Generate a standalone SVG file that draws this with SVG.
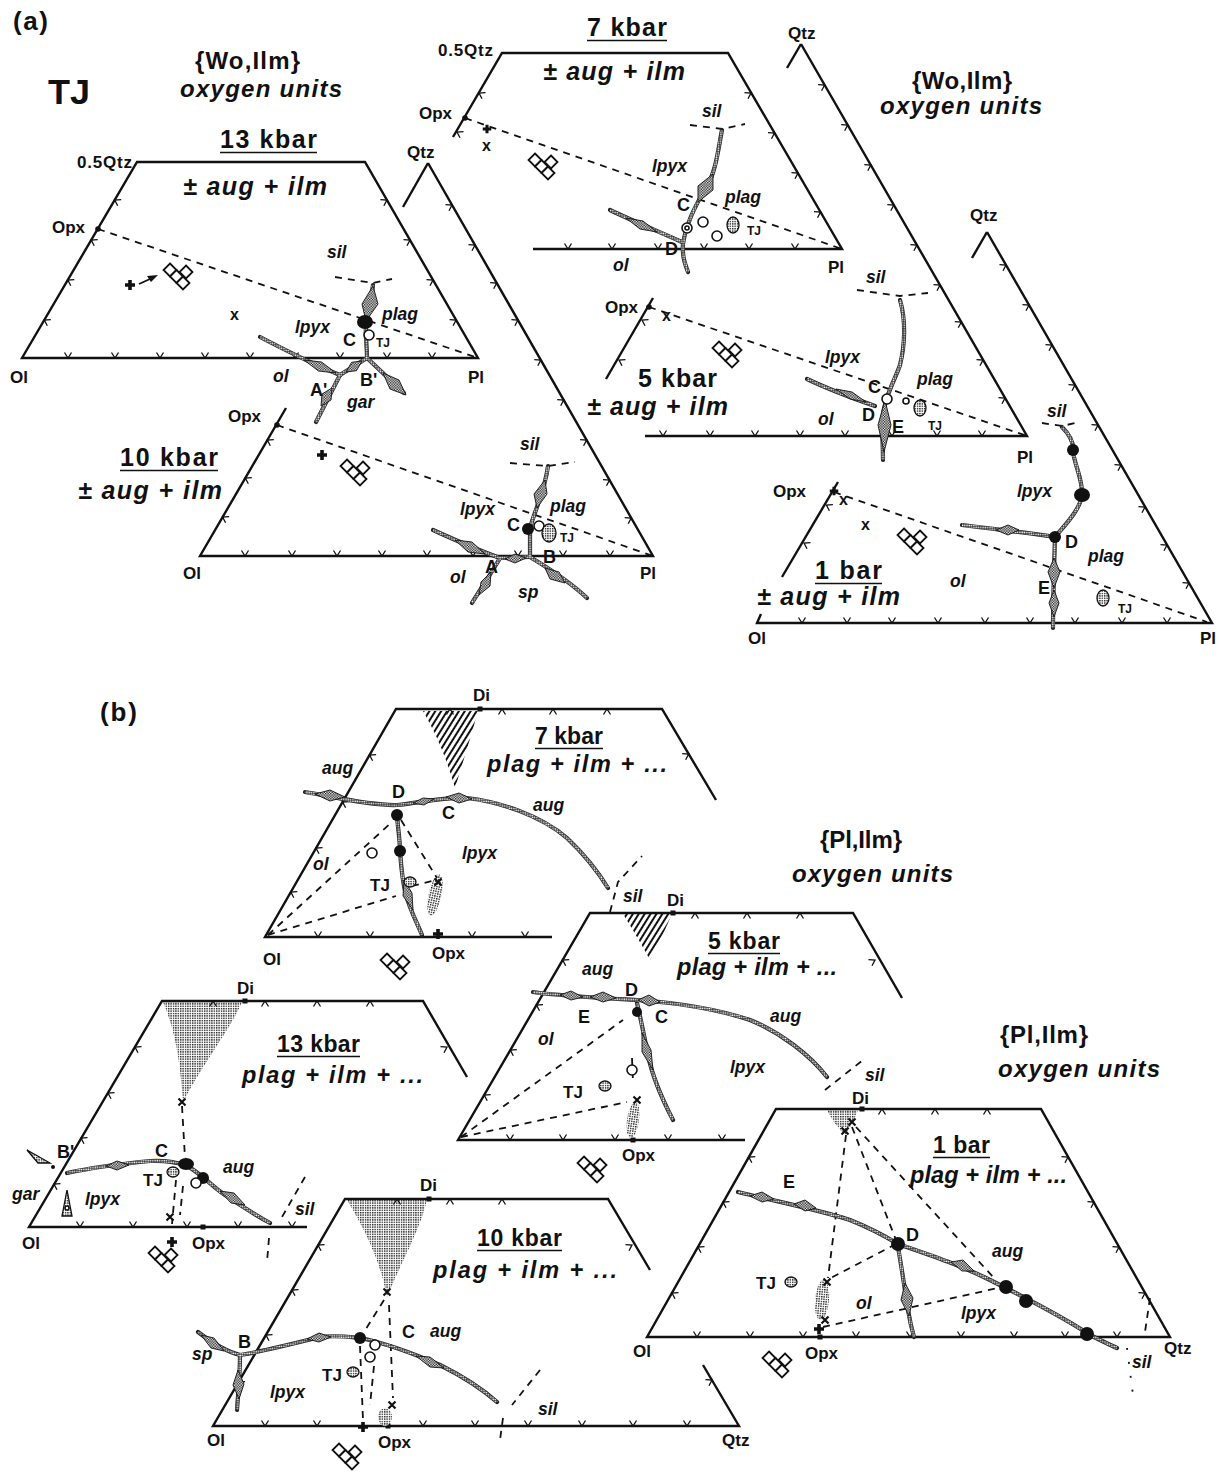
<svg xmlns="http://www.w3.org/2000/svg" width="1219" height="1474" viewBox="0 0 1219 1474">
<defs>
<style>
text{font-family:"Liberation Sans",Arial,Helvetica,sans-serif;font-weight:bold;fill:#111}
.it{font-style:italic}
.m{font-size:17px}
.p{font-size:17.5px;font-style:italic}
.pt{font-size:18px}
.sm{font-size:12px}
.ti{font-size:25px}
.tb{font-size:23px}
.hd{font-size:24px}
.pp{font-size:23.5px;font-style:italic}
.fr{fill:none;stroke:#111;stroke-width:2.4;stroke-linejoin:miter}
.tk{fill:none;stroke:#111;stroke-width:1.3}
.ds{fill:none;stroke:#111;stroke-width:1.8;stroke-dasharray:7 6}
.cb{fill:none;stroke:#222;stroke-width:4.2;stroke-linecap:round;stroke-linejoin:round}
.cd{fill:none;stroke:url(#wd);stroke-width:2.8}
.th{fill:url(#ck);stroke:#111;stroke-width:0.9}
.st{fill:url(#dt);stroke:#111;stroke-width:1.3}
.sf{fill:url(#dt);stroke:none}
.bd{fill:#111}
.oc{fill:#fff;stroke:#111;stroke-width:1.6}
.xm{fill:none;stroke:#111;stroke-width:2.2}
.ul{stroke:#111;stroke-width:1.7}
.dq{fill:#fff;stroke:#111;stroke-width:1.8}
</style>
<pattern id="wd" width="2.3" height="2.3" patternUnits="userSpaceOnUse"><rect x="0.3" y="0.3" width="1.5" height="1.5" fill="#fff"/></pattern>
<pattern id="ck" width="2.6" height="2.6" patternUnits="userSpaceOnUse"><rect width="2.6" height="2.6" fill="#fff"/><rect width="1.3" height="1.3" fill="#111"/><rect x="1.3" y="1.3" width="1.3" height="1.3" fill="#111"/></pattern>
<pattern id="dt" width="2.4" height="2.4" patternUnits="userSpaceOnUse"><rect width="2.4" height="2.4" fill="#fff"/><rect width="1.4" height="1.4" fill="#222"/></pattern>
<pattern id="hh" width="5" height="5" patternUnits="userSpaceOnUse" patternTransform="rotate(-58)"><rect width="5" height="2" fill="#111"/></pattern>
<path id="tk" d="M-3.5,-5.5L0,0L3.5,-5.5"/>
<path id="xm" d="M-3.5,-3.5L3.5,3.5M3.5,-3.5L-3.5,3.5"/>
<path id="pl" d="M-1.8,-5h3.6v3.2h3.2v3.6h-3.2v3.2h-3.6v-3.2h-3.2v-3.6h3.2z"/>
<g id="dq">
<path d="M0,-6.5L6.5,0L0,6.5L-6.5,0Z"/>
<path d="M6.5,0L13,6.5L6.5,13L0,6.5Z"/>
<path d="M16,-4.5L22.5,2L16,8.5L9.5,2Z"/>
<path d="M13,6.5L19.5,13L13,19.5L6.5,13Z"/>
</g>
<!-- reaction curves -->
<path id="c_a13_1" d="M373,285C371,300 368,312 366,322C365,335 367,345 367,358"/>
<path id="c_a13_2" d="M260,337C285,350 312,364 340,375"/>
<path id="c_a13_3" d="M340,375L367,358"/>
<path id="c_a13_4" d="M367,358L404,393"/>
<path id="c_a13_5" d="M340,375L316,422"/>
<path id="c_a10_1" d="M548,466C545,490 535,510 530,528L530,557"/>
<path id="c_a10_2" d="M433,530C455,540 478,550 500,558"/>
<path id="c_a10_3" d="M500,558L530,557"/>
<path id="c_a10_4" d="M530,557C545,566 570,582 587,598"/>
<path id="c_a10_5" d="M500,558C492,572 480,590 472,603"/>
<path id="c_a7_1" d="M722,130C718,150 716,172 706,188C696,204 686,224 683,244C682,256 685,264 688,272"/>
<path id="c_a7_2" d="M610,210C635,222 660,232 682,242"/>
<path id="c_a5_1" d="M900,300C906,320 905,345 900,365C895,380 885,395 882,420C882,432 883,446 883,460"/>
<path id="c_a5_2" d="M807,379C830,390 852,398 875,406"/>
<path id="c_a1_1" d="M1062,427C1072,437 1074,445 1073,452C1075,466 1083,480 1082,495C1080,510 1065,525 1055,537"/>
<path id="c_a1_2" d="M1055,537C1054,570 1053,600 1053,628"/>
<path id="c_a1_3" d="M1055,537C1030,533 1000,530 962,525"/>
<path id="c_b7_1" d="M305,792C330,796 370,806 397,805C420,803 440,797 467,798C500,802 540,815 567,838C585,855 600,875 608,888"/>
<path id="c_b7_2" d="M397,815C398,830 400,840 400,851C401,865 402,880 406,895C410,910 418,925 422,935"/>
<path id="c_b5_1" d="M533,992C560,996 600,998 637,1000C680,1003 720,1010 750,1020C780,1032 810,1055 827,1077"/>
<path id="c_b5_2" d="M637,1003C641,1020 645,1040 648,1055C652,1075 660,1095 673,1120"/>
<path id="c_b13_1" d="M67,1173C90,1168 120,1164 150,1161C165,1160 175,1162 185,1165"/>
<path id="c_b13_2" d="M185,1165C200,1172 210,1185 225,1195C240,1205 255,1215 270,1223"/>
<path id="c_b10_1" d="M198,1332C215,1345 228,1352 240,1355C260,1352 300,1342 320,1337C335,1335 350,1337 360,1338C380,1342 410,1352 440,1365C470,1380 488,1394 497,1402"/>
<path id="c_b10_2" d="M240,1355C240,1375 238,1395 237,1410"/>
<path id="c_b1_1" d="M738,1192C770,1200 820,1210 850,1220C870,1228 885,1236 898,1244C930,1255 960,1265 990,1280C1020,1295 1060,1315 1090,1335C1100,1340 1110,1345 1117,1348"/>
<path id="c_b1_2" d="M898,1247C902,1270 905,1290 908,1310C910,1322 912,1330 914,1337"/>
</defs>
<rect width="1219" height="1474" fill="#fff"/>

<!-- ===== part (a) headings ===== -->
<g id="a-head">
<text x="13" y="30" style="font-size:26px" textLength="35" lengthAdjust="spacing">(a)</text>
<text x="48" y="104" style="font-size:35px" textLength="42" lengthAdjust="spacingAndGlyphs">TJ</text>
<text x="195" y="69" class="hd" textLength="105" lengthAdjust="spacing">{Wo,Ilm}</text>
<text x="180" y="97" class="hd it" textLength="162" lengthAdjust="spacing">oxygen units</text>
<text x="912" y="89" class="hd" textLength="100" lengthAdjust="spacing">{Wo,Ilm}</text>
<text x="880" y="114" class="hd it" textLength="162" lengthAdjust="spacing">oxygen units</text>
</g>

<!-- ===== (a) 13 kbar ===== -->
<g id="a13">
<path class="fr" d="M22,358L137,162L365,162L478,358Z"/>
<g class="tk">
<use href="#tk" transform="translate(68,358)"/><use href="#tk" transform="translate(115,358)"/><use href="#tk" transform="translate(160,358)"/><use href="#tk" transform="translate(205,358)"/><use href="#tk" transform="translate(250,358)"/><use href="#tk" transform="translate(295,358)"/><use href="#tk" transform="translate(340,358)"/><use href="#tk" transform="translate(387,358)"/><use href="#tk" transform="translate(432,358)"/>
<use href="#tk" transform="translate(44.3,320) rotate(120)"/><use href="#tk" transform="translate(67.8,280) rotate(120)"/><use href="#tk" transform="translate(91.2,240) rotate(120)"/><use href="#tk" transform="translate(114.7,200) rotate(120)"/>
<use href="#tk" transform="translate(456.1,320) rotate(240)"/><use href="#tk" transform="translate(433,280) rotate(240)"/><use href="#tk" transform="translate(410,240) rotate(240)"/><use href="#tk" transform="translate(386.9,200) rotate(240)"/>
</g>
<circle class="bd" cx="98" cy="229" r="2.8"/>
<path class="ds" d="M98,229L478,358"/>
<path class="ds" d="M335,277L373,283L392,279"/>
<g class="cb"><use href="#c_a13_1"/><use href="#c_a13_2"/><use href="#c_a13_3"/><use href="#c_a13_4"/><use href="#c_a13_5"/></g>
<g class="cd"><use href="#c_a13_1"/><use href="#c_a13_2"/><use href="#c_a13_3"/><use href="#c_a13_4"/><use href="#c_a13_5"/></g>
<g class="th">
<path d="M373,286L378,304L366,321L362,304Z"/>
<path d="M304,360L318.5,371L336,373L321.5,362Z"/>
<path d="M346,372L356.4,370.7L362,361L351.6,362.3Z"/>
<path d="M383,373L390,389L406,395L399,380Z"/>
<path d="M321,406L331,400L332,388L322,394Z"/>
</g>
<ellipse class="bd" cx="365" cy="322" rx="8" ry="7"/>
<circle class="oc" cx="369" cy="335" r="5"/>
<use href="#pl" class="bd" transform="translate(130,285)"/>
<path d="M139,284L150,279" stroke="#111" stroke-width="1.8"/>
<path d="M158,275L147,276L151,282Z" fill="#111"/>
<use href="#dq" class="dq" transform="translate(170,270)"/>
<text x="230" y="320" style="font-size:16px">x</text>
<text x="220" y="148" class="ti" textLength="97" lengthAdjust="spacing">13 kbar</text>
<line class="ul" x1="220" y1="152.5" x2="317" y2="152.5"/>
<text x="183" y="195" class="ti it" textLength="144" lengthAdjust="spacing">± aug + ilm</text>
<text x="77" y="168" style="font-size:17px" textLength="55" lengthAdjust="spacing">0.5Qtz</text>
<text x="52" y="233" class="m">Opx</text>
<text x="10" y="383" class="m">Ol</text>
<text x="468" y="383" class="m">Pl</text>
<text x="327" y="258" class="p">sil</text>
<text x="382" y="320" class="p">plag</text>
<text x="295" y="333" class="p">lpyx</text>
<text x="343" y="346" class="pt">C</text>
<text x="376" y="347" class="sm">TJ</text>
<text x="273" y="382" class="p">ol</text>
<text x="310" y="396" class="pt">A'</text>
<text x="360" y="386" class="pt">B'</text>
<text x="347" y="408" class="p">gar</text>
</g>

<!-- ===== (a) 10 kbar ===== -->
<g id="a10">
<path class="fr" d="M428,163L403,207"/>
<path class="fr" d="M286,408L200,556L653,556L428,163"/>
<g class="tk">
<use href="#tk" transform="translate(245,556)"/><use href="#tk" transform="translate(292,556)"/><use href="#tk" transform="translate(337,556)"/><use href="#tk" transform="translate(382,556)"/><use href="#tk" transform="translate(427,556)"/><use href="#tk" transform="translate(473,556)"/><use href="#tk" transform="translate(518,556)"/><use href="#tk" transform="translate(563,556)"/><use href="#tk" transform="translate(610,556)"/>
<use href="#tk" transform="translate(267.3,440) rotate(120)"/><use href="#tk" transform="translate(245.3,478) rotate(120)"/><use href="#tk" transform="translate(222.6,517) rotate(120)"/>
<use href="#tk" transform="translate(452,205) rotate(240)"/><use href="#tk" transform="translate(475,245) rotate(240)"/><use href="#tk" transform="translate(496.7,283) rotate(240)"/><use href="#tk" transform="translate(517.9,320) rotate(240)"/><use href="#tk" transform="translate(540.8,360) rotate(240)"/><use href="#tk" transform="translate(563.7,400) rotate(240)"/><use href="#tk" transform="translate(586.6,440) rotate(240)"/><use href="#tk" transform="translate(609.5,480) rotate(240)"/><use href="#tk" transform="translate(631.2,518) rotate(240)"/>
</g>
<circle class="bd" cx="277" cy="425" r="2.8"/>
<path class="ds" d="M277,425L653,556"/>
<path class="ds" d="M510,463L548,466L575,462"/>
<g class="cb"><use href="#c_a10_1"/><use href="#c_a10_2"/><use href="#c_a10_3"/><use href="#c_a10_4"/><use href="#c_a10_5"/></g>
<g class="cd"><use href="#c_a10_1"/><use href="#c_a10_2"/><use href="#c_a10_3"/><use href="#c_a10_4"/><use href="#c_a10_5"/></g>
<g class="th">
<path d="M545,480L547,494L537,508L534,494Z"/>
<path d="M455,540L468,552L485,554L472,542Z"/>
<path d="M545,568L550,579L565,583L559,572Z"/>
<path d="M491,572L490,586L479,595L481,582Z"/>
<path d="M505,559L515,563L526,558L515,554Z"/>
</g>
<circle class="bd" cx="528" cy="529" r="6"/>
<circle class="oc" cx="539" cy="526" r="5"/>
<ellipse class="st" cx="549" cy="533" rx="7" ry="9"/>
<use href="#pl" class="bd" transform="translate(322,455)"/>
<use href="#dq" class="dq" transform="translate(347,466)"/>
<text x="407" y="158" class="m">Qtz</text>
<text x="228" y="422" class="m">Opx</text>
<text x="120" y="466" class="ti" textLength="98" lengthAdjust="spacing">10 kbar</text>
<line class="ul" x1="120" y1="470.5" x2="218" y2="470.5"/>
<text x="78" y="499" class="ti it" textLength="144" lengthAdjust="spacing">± aug + ilm</text>
<text x="520" y="450" class="p">sil</text>
<text x="550" y="512" class="p">plag</text>
<text x="460" y="515" class="p">lpyx</text>
<text x="507" y="531" class="pt">C</text>
<text x="560" y="542" class="sm">TJ</text>
<text x="450" y="583" class="p">ol</text>
<text x="485" y="573" class="pt">A</text>
<text x="543" y="563" class="pt">B</text>
<text x="518" y="598" class="p">sp</text>
<text x="183" y="579" class="m">Ol</text>
<text x="640" y="579" class="m">Pl</text>
</g>

<!-- ===== (a) 7 kbar ===== -->
<g id="a7">
<path class="fr" d="M453,137L502,53L728,53L842,249L533,249"/>
<g class="tk">
<use href="#tk" transform="translate(568,249)"/><use href="#tk" transform="translate(612,249)"/><use href="#tk" transform="translate(658,249)"/><use href="#tk" transform="translate(704,249)"/><use href="#tk" transform="translate(749,249)"/><use href="#tk" transform="translate(795,249)"/>
<use href="#tk" transform="translate(479,93) rotate(120)"/><use href="#tk" transform="translate(457,132) rotate(120)"/>
<use href="#tk" transform="translate(751,93) rotate(240)"/><use href="#tk" transform="translate(774.5,133) rotate(240)"/><use href="#tk" transform="translate(798,173) rotate(240)"/><use href="#tk" transform="translate(820.5,212) rotate(240)"/>
</g>
<circle class="bd" cx="465" cy="118" r="2.8"/>
<path class="ds" d="M465,118L842,249"/>
<path class="ds" d="M690,125L722,129L745,124"/>
<g class="cb"><use href="#c_a7_1"/><use href="#c_a7_2"/></g>
<g class="cd"><use href="#c_a7_1"/><use href="#c_a7_2"/></g>
<g class="th">
<path d="M713,174L713,190L698,202L698,186Z"/>
<path d="M626,218L640,229L657,232L643,221Z"/>
</g>
<circle class="oc" cx="687" cy="228" r="5"/>
<circle class="oc" cx="687" cy="228" r="2"/>
<circle class="oc" cx="703" cy="222" r="5"/>
<circle class="oc" cx="717" cy="236" r="5"/>
<ellipse class="st" cx="733" cy="225" rx="6" ry="8"/>
<use href="#pl" class="bd" transform="translate(487,129) scale(0.85)"/>
<text x="482" y="151" style="font-size:16px">x</text>
<use href="#dq" class="dq" transform="translate(535,160)"/>
<text x="587" y="36" class="ti" textLength="80" lengthAdjust="spacing">7 kbar</text>
<line class="ul" x1="587" y1="40.5" x2="667" y2="40.5"/>
<text x="438" y="56" style="font-size:17px" textLength="55" lengthAdjust="spacing">0.5Qtz</text>
<text x="543" y="80" class="ti it" textLength="142" lengthAdjust="spacing">± aug + ilm</text>
<text x="419" y="119" class="m">Opx</text>
<text x="788" y="39" class="m">Qtz</text>
<text x="702" y="117" class="p">sil</text>
<text x="652" y="172" class="p">lpyx</text>
<text x="725" y="203" class="p">plag</text>
<text x="677" y="211" class="pt">C</text>
<text x="747" y="235" class="sm">TJ</text>
<text x="665" y="255" class="pt">D</text>
<text x="613" y="271" class="p">ol</text>
<text x="828" y="273" class="m">Pl</text>
</g>

<!-- ===== (a) 5 kbar ===== -->
<g id="a5">
<path class="fr" d="M801,44L787,68"/>
<path class="fr" d="M653,298L606,379"/>
<path class="fr" d="M801,44L1027,436L645,436"/>
<g class="tk">
<use href="#tk" transform="translate(663,436)"/><use href="#tk" transform="translate(710,436)"/><use href="#tk" transform="translate(755,436)"/><use href="#tk" transform="translate(800,436)"/><use href="#tk" transform="translate(845,436)"/><use href="#tk" transform="translate(892,436)"/><use href="#tk" transform="translate(937,436)"/><use href="#tk" transform="translate(982,436)"/>
<use href="#tk" transform="translate(642,320) rotate(120)"/><use href="#tk" transform="translate(619,360) rotate(120)"/>
<use href="#tk" transform="translate(824.6,85) rotate(240)"/><use href="#tk" transform="translate(847.7,125) rotate(240)"/><use href="#tk" transform="translate(870.8,165) rotate(240)"/><use href="#tk" transform="translate(893.8,205) rotate(240)"/><use href="#tk" transform="translate(916.9,245) rotate(240)"/><use href="#tk" transform="translate(940,285) rotate(240)"/><use href="#tk" transform="translate(961.3,322) rotate(240)"/><use href="#tk" transform="translate(983,360) rotate(240)"/><use href="#tk" transform="translate(1005,398) rotate(240)"/>
</g>
<circle class="bd" cx="649" cy="307" r="2.8"/>
<path class="ds" d="M649,307L1027,436"/>
<path class="ds" d="M857,290L900,296L928,293"/>
<g class="cb"><use href="#c_a5_1"/><use href="#c_a5_2"/></g>
<g class="cd"><use href="#c_a5_1"/><use href="#c_a5_2"/></g>
<g class="th">
<path d="M885,400L891,425L884,452L878,425Z"/>
<path d="M836,389L850,399L866,402L852,392Z"/>
</g>
<circle class="oc" cx="887" cy="399" r="5"/>
<circle class="oc" cx="906" cy="401" r="3"/>
<ellipse class="st" cx="920" cy="408" rx="6" ry="8"/>
<text x="662" y="321" style="font-size:16px">x</text>
<use href="#dq" class="dq" transform="translate(719,348)"/>
<text x="605" y="313" class="m">Opx</text>
<text x="638" y="387" class="ti" textLength="79" lengthAdjust="spacing">5 kbar</text>
<text x="587" y="415" class="ti it" textLength="141" lengthAdjust="spacing">± aug + ilm</text>
<text x="866" y="283" class="p">sil</text>
<text x="825" y="363" class="p">lpyx</text>
<text x="917" y="385" class="p">plag</text>
<text x="868" y="393" class="pt">C</text>
<text x="862" y="421" class="pt">D</text>
<text x="892" y="433" class="pt">E</text>
<text x="818" y="425" class="p">ol</text>
<text x="928" y="430" class="sm">TJ</text>
<text x="1017" y="463" class="m">Pl</text>
</g>

<!-- ===== (a) 1 bar ===== -->
<g id="a1">
<path class="fr" d="M987,232L972,258"/>
<path class="fr" d="M838,482L782,577"/>
<path class="fr" d="M761,614L757,623L1212,623L987,232"/>
<g class="tk">
<use href="#tk" transform="translate(802,623)"/><use href="#tk" transform="translate(847,623)"/><use href="#tk" transform="translate(892,623)"/><use href="#tk" transform="translate(938,623)"/><use href="#tk" transform="translate(985,623)"/><use href="#tk" transform="translate(1030,623)"/><use href="#tk" transform="translate(1075,623)"/><use href="#tk" transform="translate(1122,623)"/><use href="#tk" transform="translate(1167,623)"/>
<use href="#tk" transform="translate(826.4,505) rotate(120)"/><use href="#tk" transform="translate(804,543) rotate(120)"/>
<use href="#tk" transform="translate(1006,265) rotate(240)"/><use href="#tk" transform="translate(1029,305) rotate(240)"/><use href="#tk" transform="translate(1052,345) rotate(240)"/><use href="#tk" transform="translate(1075,385) rotate(240)"/><use href="#tk" transform="translate(1098,425) rotate(240)"/><use href="#tk" transform="translate(1121,465) rotate(240)"/><use href="#tk" transform="translate(1145,507) rotate(240)"/><use href="#tk" transform="translate(1167,545) rotate(240)"/><use href="#tk" transform="translate(1189,583) rotate(240)"/>
</g>
<path class="ds" d="M834,492L1207,622"/>
<path class="ds" d="M1042,423L1062,426L1080,422"/>
<g class="cb"><use href="#c_a1_1"/><use href="#c_a1_2"/><use href="#c_a1_3"/></g>
<g class="cd"><use href="#c_a1_1"/><use href="#c_a1_2"/><use href="#c_a1_3"/></g>
<g class="th">
<path d="M996,530L1008,525L1019,530L1008,535Z"/>
<path d="M1054,558L1060,572L1054,588L1048,572Z"/>
<path d="M1054,590L1059,603L1054,617L1049,603Z"/>
</g>
<circle class="bd" cx="1073" cy="450" r="6"/>
<ellipse class="bd" cx="1082" cy="495" rx="8" ry="7"/>
<circle class="bd" cx="1055" cy="537" r="6"/>
<ellipse class="st" cx="1103" cy="598" rx="6" ry="8"/>
<use href="#pl" class="bd" transform="translate(834,491) scale(0.85)"/>
<text x="839" y="505" style="font-size:16px">x</text>
<text x="861" y="530" style="font-size:16px">x</text>
<use href="#dq" class="dq" transform="translate(904,535)"/>
<text x="970" y="221" class="m">Qtz</text>
<text x="773" y="497" class="m">Opx</text>
<text x="1047" y="417" class="p">sil</text>
<text x="1017" y="497" class="p">lpyx</text>
<text x="1065" y="548" class="pt">D</text>
<text x="1088" y="562" class="p">plag</text>
<text x="950" y="587" class="p">ol</text>
<text x="1038" y="594" class="pt">E</text>
<text x="1118" y="613" class="sm">TJ</text>
<text x="815" y="579" class="ti" textLength="67" lengthAdjust="spacing">1 bar</text>
<line class="ul" x1="815" y1="583.5" x2="882" y2="583.5"/>
<text x="757" y="605" class="ti it" textLength="143" lengthAdjust="spacing">± aug + ilm</text>
<text x="748" y="644" class="m">Ol</text>
<text x="1200" y="644" class="m">Pl</text>
</g>

<!-- ===== part (b) headings ===== -->
<g id="b-head">
<text x="100" y="721" style="font-size:26px" textLength="37" lengthAdjust="spacing">(b)</text>
<text x="820" y="848" class="hd" textLength="82" lengthAdjust="spacing">{Pl,Ilm}</text>
<text x="792" y="882" class="hd it" textLength="161" lengthAdjust="spacing">oxygen units</text>
<text x="1000" y="1043" class="hd" textLength="88" lengthAdjust="spacing">{Pl,Ilm}</text>
<text x="998" y="1077" class="hd it" textLength="162" lengthAdjust="spacing">oxygen units</text>
</g>

<!-- ===== (b) 7 kbar ===== -->
<g id="b7">
<path d="M423,711L478,711C470,740 462,765 455,788C447,760 437,735 423,711Z" fill="url(#hh)"/>
<path class="fr" d="M716,800L662,709L396,709L265,937L552,937"/>
<g class="tk">
<use href="#tk" transform="translate(450,709) rotate(180)"/><use href="#tk" transform="translate(502,709) rotate(180)"/><use href="#tk" transform="translate(553,709) rotate(180)"/><use href="#tk" transform="translate(607,709) rotate(180)"/>
<use href="#tk" transform="translate(688.7,754) rotate(240)"/>
<use href="#tk" transform="translate(369.6,755) rotate(120)"/><use href="#tk" transform="translate(342.6,802) rotate(120)"/><use href="#tk" transform="translate(316,848) rotate(120)"/><use href="#tk" transform="translate(290.8,892) rotate(120)"/>
<use href="#tk" transform="translate(318,937)"/><use href="#tk" transform="translate(370,937)"/><use href="#tk" transform="translate(472,937)"/><use href="#tk" transform="translate(525,937)"/>
</g>
<rect class="bd" x="477.5" y="706.5" width="5" height="5"/>
<ellipse class="sf" cx="435" cy="895" rx="6.5" ry="21" transform="rotate(12 435 895)"/>
<g class="ds">
<path d="M268,935L392,822"/>
<path d="M268,935L396,896"/>
<path d="M412,886L436,880"/>
<path d="M401,820L437,878"/>
<path d="M610,912L618,882L642,856"/>
</g>
<g class="cb"><use href="#c_b7_1"/><use href="#c_b7_2"/></g>
<g class="cd"><use href="#c_b7_1"/><use href="#c_b7_2"/></g>
<g class="th">
<path d="M315,794L330,790L345,797L330,801Z"/>
<path d="M413,803L423,798L434,799L424,805Z"/>
<path d="M446,797L459,793L472,799L459,803Z"/>
<path d="M404,880L412,893L413,910L403,896Z"/>
</g>
<circle class="bd" cx="397" cy="815" r="6"/>
<circle class="bd" cx="400" cy="851" r="6"/>
<circle class="oc" cx="372" cy="853" r="5"/>
<ellipse class="st" cx="410" cy="882" rx="6" ry="5"/>
<use href="#xm" class="xm" transform="translate(438,882)"/>
<use href="#pl" class="bd" transform="translate(438,934)"/>
<use href="#dq" class="dq" transform="translate(387,960)"/>
<text x="473" y="701" class="m">Di</text>
<text x="535" y="744" class="tb" textLength="68" lengthAdjust="spacing">7 kbar</text>
<line class="ul" x1="535" y1="748.5" x2="603" y2="748.5"/>
<text x="487" y="772" class="pp" textLength="180" lengthAdjust="spacing">plag + ilm + ...</text>
<text x="322" y="774" class="p">aug</text>
<text x="392" y="798" class="pt">D</text>
<text x="442" y="819" class="pt">C</text>
<text x="533" y="811" class="p">aug</text>
<text x="462" y="859" class="p">lpyx</text>
<text x="313" y="870" class="p">ol</text>
<text x="370" y="891" class="m">TJ</text>
<text x="432" y="959" class="m">Opx</text>
<text x="263" y="965" class="m">Ol</text>
<text x="623" y="902" class="p">sil</text>
</g>

<!-- ===== (b) 5 kbar ===== -->
<g id="b5">
<path d="M623,914L672,914C665,930 658,945 650,960C642,945 633,930 623,914Z" fill="url(#hh)"/>
<path class="fr" d="M902,998L853,913L590,913L458,1140L745,1140"/>
<g class="tk">
<use href="#tk" transform="translate(695,913) rotate(180)"/><use href="#tk" transform="translate(747,913) rotate(180)"/><use href="#tk" transform="translate(800,913) rotate(180)"/>
<use href="#tk" transform="translate(875,960) rotate(240)"/>
<use href="#tk" transform="translate(562.7,960) rotate(120)"/><use href="#tk" transform="translate(536.5,1005) rotate(120)"/><use href="#tk" transform="translate(510.3,1050) rotate(120)"/><use href="#tk" transform="translate(484.2,1095) rotate(120)"/>
<use href="#tk" transform="translate(510,1140)"/><use href="#tk" transform="translate(563,1140)"/><use href="#tk" transform="translate(615,1140)"/><use href="#tk" transform="translate(668,1140)"/><use href="#tk" transform="translate(722,1140)"/>
</g>
<rect class="bd" x="670.5" y="910.5" width="5" height="5"/>
<rect class="bd" x="630.5" y="1137.5" width="5" height="5"/>
<ellipse class="sf" cx="633" cy="1120" rx="6" ry="18" transform="rotate(8 633 1120)"/>
<g class="ds">
<path d="M461,1137L623,1020"/>
<path d="M461,1137L627,1102"/>
<path d="M632,1058L633,1082"/>
<path d="M825,1090L863,1060"/>
</g>
<g class="cb"><use href="#c_b5_1"/><use href="#c_b5_2"/></g>
<g class="cd"><use href="#c_b5_1"/><use href="#c_b5_2"/></g>
<g class="th">
<path d="M560,995L571,991L583,997L571,1000Z"/>
<path d="M590,997L603,992L616,998L603,1002Z"/>
<path d="M638,1000L649,995L660,1002L649,1006Z"/>
<path d="M642,1033L651,1050L653,1070L642,1052Z"/>
</g>
<circle class="bd" cx="637" cy="1012" r="5"/>
<circle class="oc" cx="632" cy="1070" r="5"/>
<ellipse class="st" cx="605" cy="1086" rx="6" ry="5"/>
<use href="#xm" class="xm" transform="translate(637,1100)"/>
<use href="#dq" class="dq" transform="translate(584,1163)"/>
<text x="667" y="906" class="m">Di</text>
<text x="708" y="949" class="tb" textLength="72" lengthAdjust="spacing">5 kbar</text>
<line class="ul" x1="708" y1="953.5" x2="780" y2="953.5"/>
<text x="677" y="975" class="pp" textLength="160" lengthAdjust="spacing">plag + ilm + ...</text>
<text x="582" y="975" class="p">aug</text>
<text x="625" y="996" class="pt">D</text>
<text x="578" y="1023" class="pt">E</text>
<text x="655" y="1023" class="pt">C</text>
<text x="770" y="1022" class="p">aug</text>
<text x="538" y="1045" class="p">ol</text>
<text x="730" y="1073" class="p">lpyx</text>
<text x="563" y="1098" class="m">TJ</text>
<text x="622" y="1161" class="m">Opx</text>
<text x="865" y="1081" class="p">sil</text>
</g>

<!-- ===== (b) 13 kbar ===== -->
<g id="b13">
<path class="sf" d="M163,1002L242,1002C230,1030 205,1060 183,1102C180,1060 175,1030 163,1002Z"/>
<path class="fr" d="M467,1077L423,1001L162,1001L29,1227L307,1227"/>
<g class="tk">
<use href="#tk" transform="translate(213,1001) rotate(180)"/><use href="#tk" transform="translate(265,1001) rotate(180)"/><use href="#tk" transform="translate(317,1001) rotate(180)"/><use href="#tk" transform="translate(370,1001) rotate(180)"/>
<use href="#tk" transform="translate(447,1047) rotate(240)"/>
<use href="#tk" transform="translate(135,1047) rotate(120)"/><use href="#tk" transform="translate(108,1093) rotate(120)"/><use href="#tk" transform="translate(81,1138) rotate(120)"/><use href="#tk" transform="translate(54,1184) rotate(120)"/>
<use href="#tk" transform="translate(80,1227)"/><use href="#tk" transform="translate(133,1227)"/><use href="#tk" transform="translate(187,1227)"/><use href="#tk" transform="translate(238,1227)"/><use href="#tk" transform="translate(292,1227)"/>
</g>
<rect class="bd" x="242.5" y="998.5" width="5" height="5"/>
<rect class="bd" x="200.5" y="1224.5" width="5" height="5"/>
<use href="#xm" class="xm" transform="translate(182,1102)"/>
<g class="ds">
<path d="M182,1106L185,1158"/>
<path d="M176,1180L172,1224"/>
<path d="M183,1186L180,1215"/>
<path d="M305,1177L282,1217"/>
<path d="M269,1238L267,1262"/>
</g>
<g class="cb"><use href="#c_b13_1"/><use href="#c_b13_2"/></g>
<g class="cd"><use href="#c_b13_1"/><use href="#c_b13_2"/></g>
<g class="th">
<path d="M106,1166L117,1161L129,1165L117,1170Z"/>
<path d="M220,1191L234,1193L245,1205L231,1203Z"/>
</g>
<ellipse class="bd" cx="186" cy="1164" rx="8" ry="6"/>
<circle class="bd" cx="203" cy="1178" r="6"/>
<circle class="oc" cx="196" cy="1183" r="5"/>
<ellipse class="st" cx="173" cy="1172" rx="6" ry="5"/>
<path class="st" d="M27,1150L50,1163L38,1163Z"/>
<circle class="bd" cx="53" cy="1167" r="2"/>
<path class="st" d="M67,1190L62,1216L72,1216Z"/>
<circle class="oc" cx="67" cy="1208" r="2"/>
<use href="#xm" class="xm" transform="translate(170,1217)"/>
<use href="#pl" class="bd" transform="translate(172,1242)"/>
<use href="#dq" class="dq" transform="translate(155,1253)"/>
<text x="237" y="994" class="m">Di</text>
<text x="277" y="1052" class="tb" textLength="83" lengthAdjust="spacing">13 kbar</text>
<line class="ul" x1="277" y1="1056.5" x2="360" y2="1056.5"/>
<text x="242" y="1083" class="pp" textLength="181" lengthAdjust="spacing">plag + ilm + ...</text>
<text x="57" y="1158" class="pt">B'</text>
<text x="155" y="1157" class="pt">C</text>
<text x="143" y="1186" class="m">TJ</text>
<text x="223" y="1173" class="p">aug</text>
<text x="12" y="1200" class="p">gar</text>
<text x="85" y="1205" class="p">lpyx</text>
<text x="295" y="1215" class="p">sil</text>
<text x="22" y="1249" class="m">Ol</text>
<text x="192" y="1249" class="m">Opx</text>
</g>

<!-- ===== (b) 10 kbar ===== -->
<g id="b10">
<path class="sf" d="M347,1200L427,1200C420,1230 400,1265 387,1297C380,1260 365,1230 347,1200Z"/>
<path class="fr" d="M650,1270L608,1199L345,1199L213,1426L739,1426L703,1365"/>
<g class="tk">
<use href="#tk" transform="translate(397,1199) rotate(180)"/><use href="#tk" transform="translate(450,1199) rotate(180)"/><use href="#tk" transform="translate(502,1199) rotate(180)"/>
<use href="#tk" transform="translate(632,1245) rotate(240)"/><use href="#tk" transform="translate(712,1380) rotate(240)"/>
<use href="#tk" transform="translate(318,1245) rotate(120)"/><use href="#tk" transform="translate(292,1290) rotate(120)"/><use href="#tk" transform="translate(266,1335) rotate(120)"/><use href="#tk" transform="translate(238.6,1382) rotate(120)"/>
<use href="#tk" transform="translate(265,1426)"/><use href="#tk" transform="translate(317,1426)"/><use href="#tk" transform="translate(423,1426)"/><use href="#tk" transform="translate(475,1426)"/><use href="#tk" transform="translate(528,1426)"/><use href="#tk" transform="translate(582,1426)"/><use href="#tk" transform="translate(633,1426)"/><use href="#tk" transform="translate(687,1426)"/>
</g>
<rect class="bd" x="426.5" y="1196.5" width="5" height="5"/>
<rect class="bd" x="385.5" y="1423.5" width="5" height="5"/>
<ellipse class="sf" cx="385" cy="1417" rx="7" ry="9"/>
<use href="#xm" class="xm" transform="translate(387,1292)"/>
<g class="ds">
<path d="M384,1300L364,1332"/>
<path d="M389,1305L393,1398"/>
<path d="M360,1346L363,1420"/>
<path d="M374,1366L370,1405"/>
<path d="M540,1370L512,1405"/>
<path d="M503,1418L500,1440"/>
</g>
<g class="cb"><use href="#c_b10_1"/><use href="#c_b10_2"/></g>
<g class="cd"><use href="#c_b10_1"/><use href="#c_b10_2"/></g>
<g class="th">
<path d="M201,1335L214,1338L224,1351L211,1348Z"/>
<path d="M307,1339L319,1333L331,1337L319,1342Z"/>
<path d="M416,1356L430,1357L444,1368L430,1367Z"/>
<path d="M238,1370L244,1384L239,1399L233,1385Z"/>
</g>
<circle class="bd" cx="360" cy="1338" r="6"/>
<circle class="oc" cx="375" cy="1345" r="5"/>
<circle class="oc" cx="370" cy="1357" r="5"/>
<ellipse class="st" cx="353" cy="1372" rx="6" ry="5"/>
<use href="#xm" class="xm" transform="translate(392,1405)"/>
<use href="#pl" class="bd" transform="translate(363,1427)"/>
<use href="#dq" class="dq" transform="translate(339,1450)"/>
<text x="420" y="1191" class="m">Di</text>
<text x="477" y="1246" class="tb" textLength="85" lengthAdjust="spacing">10 kbar</text>
<line class="ul" x1="477" y1="1250.5" x2="562" y2="1250.5"/>
<text x="433" y="1278" class="pp" textLength="184" lengthAdjust="spacing">plag + ilm + ...</text>
<text x="238" y="1348" class="pt">B</text>
<text x="192" y="1360" class="p">sp</text>
<text x="402" y="1338" class="pt">C</text>
<text x="430" y="1337" class="p">aug</text>
<text x="322" y="1381" class="m">TJ</text>
<text x="270" y="1398" class="p">lpyx</text>
<text x="538" y="1415" class="p">sil</text>
<text x="207" y="1446" class="m">Ol</text>
<text x="378" y="1448" class="m">Opx</text>
<text x="722" y="1446" class="m">Qtz</text>
</g>

<!-- ===== (b) 1 bar ===== -->
<g id="b1">
<path class="sf" d="M827,1110L858,1110C854,1120 850,1128 845,1135C838,1128 832,1120 827,1110Z"/>
<path class="fr" d="M647,1337L776,1109L1041,1109L1170,1337Z"/>
<g class="tk">
<use href="#tk" transform="translate(882,1109) rotate(180)"/><use href="#tk" transform="translate(935,1109) rotate(180)"/><use href="#tk" transform="translate(987,1109) rotate(180)"/>
<use href="#tk" transform="translate(748.8,1157) rotate(120)"/><use href="#tk" transform="translate(723,1202) rotate(120)"/><use href="#tk" transform="translate(698,1247) rotate(120)"/><use href="#tk" transform="translate(672,1293) rotate(120)"/>
<use href="#tk" transform="translate(1068,1157) rotate(240)"/><use href="#tk" transform="translate(1094,1202) rotate(240)"/><use href="#tk" transform="translate(1119,1247) rotate(240)"/><use href="#tk" transform="translate(1145,1293) rotate(240)"/>
<use href="#tk" transform="translate(697,1337)"/><use href="#tk" transform="translate(750,1337)"/><use href="#tk" transform="translate(803,1337)"/><use href="#tk" transform="translate(856,1337)"/><use href="#tk" transform="translate(910,1337)"/><use href="#tk" transform="translate(961,1337)"/><use href="#tk" transform="translate(1014,1337)"/><use href="#tk" transform="translate(1065,1337)"/><use href="#tk" transform="translate(1117,1337)"/>
</g>
<rect class="bd" x="859.5" y="1106.5" width="5" height="5"/>
<rect class="bd" x="817.5" y="1334.5" width="5" height="5"/>
<ellipse class="sf" cx="822" cy="1300" rx="7" ry="20" transform="rotate(5 822 1300)"/>
<use href="#xm" class="xm" transform="translate(852,1122)"/>
<use href="#xm" class="xm" transform="translate(845,1131)"/>
<g class="ds">
<path d="M846,1135L828,1278"/>
<path d="M852,1127L896,1240"/>
<path d="M856,1127L994,1278"/>
<path d="M896,1244L827,1280"/>
<path d="M823,1327L998,1288"/>
<path d="M1150,1298L1145,1332"/>
<path d="M1127,1348L1133,1395" style="stroke-dasharray:2 12"/>
</g>
<g class="cb"><use href="#c_b1_1"/><use href="#c_b1_2"/></g>
<g class="cd"><use href="#c_b1_1"/><use href="#c_b1_2"/></g>
<g class="th">
<path d="M750,1196L762,1192L774,1199L762,1202Z"/>
<path d="M794,1204L805,1200L816,1208L805,1211Z"/>
<path d="M951,1262L963,1260L974,1271L962,1271Z"/>
<path d="M905,1283L913,1298L909,1316L901,1300Z"/>
</g>
<circle class="bd" cx="898" cy="1244" r="7"/>
<circle class="bd" cx="1006" cy="1287" r="7"/>
<circle class="bd" cx="1026" cy="1301" r="7"/>
<circle class="bd" cx="1087" cy="1334" r="7"/>
<ellipse class="st" cx="791" cy="1282" rx="6" ry="5"/>
<use href="#xm" class="xm" transform="translate(827,1282)"/>
<use href="#xm" class="xm" transform="translate(825,1320)"/>
<use href="#pl" class="bd" transform="translate(819,1329)"/>
<use href="#dq" class="dq" transform="translate(769,1358)"/>
<text x="852" y="1104" class="m">Di</text>
<text x="933" y="1153" class="tb" textLength="57" lengthAdjust="spacing">1 bar</text>
<line class="ul" x1="933" y1="1157.5" x2="990" y2="1157.5"/>
<text x="910" y="1183" class="pp" textLength="157" lengthAdjust="spacing">plag + ilm + ...</text>
<text x="783" y="1188" class="pt">E</text>
<text x="906" y="1241" class="pt">D</text>
<text x="992" y="1257" class="p">aug</text>
<text x="756" y="1289" class="m">TJ</text>
<text x="856" y="1309" class="p">ol</text>
<text x="961" y="1319" class="p">lpyx</text>
<text x="633" y="1357" class="m">Ol</text>
<text x="805" y="1359" class="m">Opx</text>
<text x="1164" y="1354" class="m">Qtz</text>
<text x="1132" y="1368" class="p">sil</text>
</g>
</svg>
